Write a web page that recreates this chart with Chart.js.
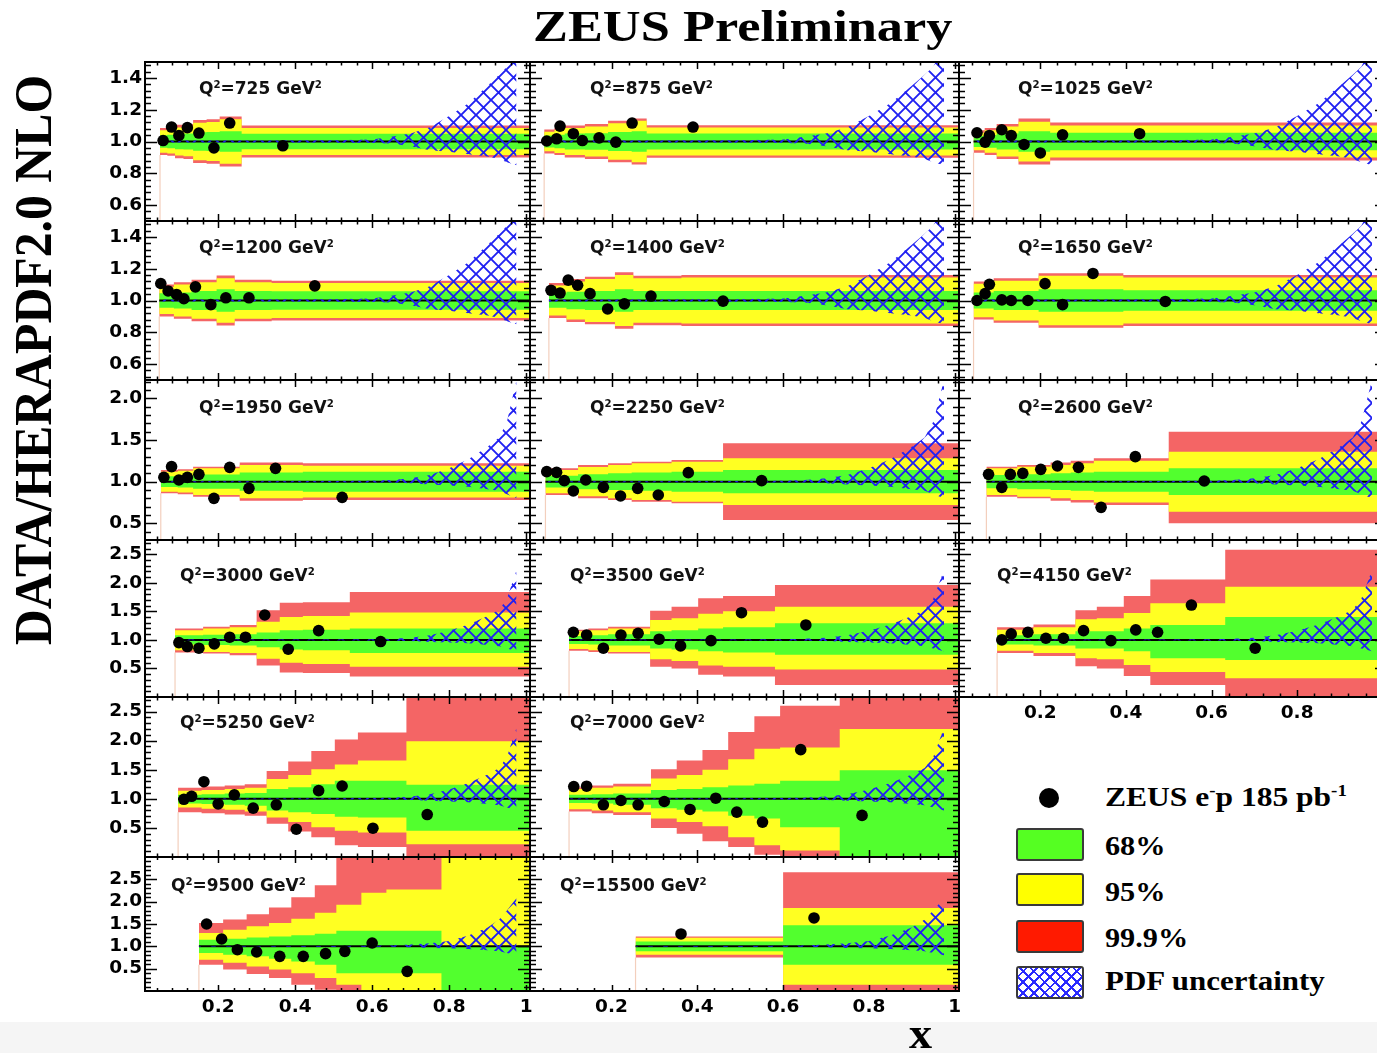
<!DOCTYPE html>
<html>
<head>
<meta charset="utf-8">
<title>ZEUS Preliminary</title>
<script src="https://cdn.jsdelivr.net/npm/chart.js@4.4.1/dist/chart.umd.min.js"></script>
<style>
  html, body { margin:0; padding:0; background:#fff; }
  body { position:relative; width:1377px; height:1053px; overflow:hidden; }
  canvas { position:absolute; }
  .txt { position:absolute; white-space:nowrap; color:#000; transform-origin:0 0; }
  .serif { font-family:"Liberation Serif","Times New Roman",serif; font-weight:bold; }
  .sans { font-family:"DejaVu Sans",sans-serif; font-weight:bold; color:#111; }
  .sup { position:relative; font-size:0.6em; top:-0.62em; line-height:0; }
  .box { position:absolute; box-sizing:border-box; border:2px solid #3a3a3a; border-radius:3px; }
  #strip { position:absolute; left:0; top:1022px; width:1377px; height:31px; background:#f5f5f5; }
</style>
</head>
<body>
<div id="strip"></div>
<script>
// ================= DATA =================
// tick labels
const xTickLabels   = [0.2, 0.4, 0.6, 0.8, 1.0];
const yTicksRow12   = [0.6, 0.8, 1.0, 1.2, 1.4];
const yTicksRow3    = [0.5, 1.0, 1.5, 2.0];
const yTicksRow456  = [0.5, 1.0, 1.5, 2.0, 2.5];

// PDF uncertainty (hatched) band, ratio upper / lower edges at pdfX
const pdfX   = [0.03, 0.30, 0.50, 0.60, 0.65, 0.70, 0.75, 0.80, 0.85, 0.90, 0.93, 0.95, 0.975];
const pdfUpA = [1.006,1.006,1.008,1.012,1.030,1.050,1.090,1.160,1.240,1.350,1.420,1.470,1.600];
const pdfLoA = [0.994,0.994,0.992,0.990,0.988,0.970,0.945,0.935,0.920,0.905,0.890,0.870,0.850];
const pdfUpB = [1.006,1.006,1.008,1.012,1.020,1.040,1.080,1.160,1.270,1.420,1.530,1.720,2.220];
const pdfLoB = [0.994,0.994,0.992,0.990,0.990,0.980,0.965,0.955,0.940,0.910,0.890,0.850,0.800];
const pdfUpC = [1.006,1.006,1.008,1.012,1.020,1.040,1.070,1.120,1.240,1.420,1.600,1.800,2.080];
const pdfLoC = [0.994,0.994,0.992,0.990,0.990,0.980,0.965,0.955,0.940,0.910,0.890,0.850,0.800];

// Q2 = 725
const q725_x    = [0.057, 0.079, 0.098, 0.120, 0.150, 0.189, 0.230, 0.368];
const q725_v    = [1.006, 1.091, 1.038, 1.087, 1.053, 0.960, 1.116, 0.973];
const q725_edges= [0.049, 0.068, 0.088, 0.110, 0.135, 0.170, 0.204, 0.261, 1.01];
const q725_b68  = [0.040, 0.042, 0.048, 0.050, 0.058, 0.060, 0.065, 0.048];
const q725_b95  = [0.070, 0.075, 0.088, 0.092, 0.118, 0.122, 0.140, 0.085];
const q725_b999 = [0.085, 0.090, 0.105, 0.110, 0.135, 0.140, 0.158, 0.100];
// Q2 = 875
const q875_x    = [0.049, 0.072, 0.080, 0.111, 0.132, 0.171, 0.210, 0.248, 0.390];
const q875_v    = [1.003, 1.017, 1.097, 1.049, 1.006, 1.023, 0.996, 1.116, 1.091];
const q875_edges= [0.043, 0.067, 0.091, 0.138, 0.192, 0.247, 0.282, 1.01];
const q875_b68  = [0.038, 0.042, 0.050, 0.052, 0.060, 0.065, 0.050];
const q875_b95  = [0.062, 0.072, 0.085, 0.095, 0.115, 0.130, 0.088];
const q875_b999 = [0.075, 0.085, 0.100, 0.110, 0.130, 0.145, 0.102];
// Q2 = 1025
const q1025_x    = [0.052, 0.071, 0.081, 0.110, 0.132, 0.162, 0.200, 0.252, 0.432];
const q1025_v    = [1.055, 0.996, 1.038, 1.074, 1.038, 0.981, 0.928, 1.042, 1.049];
const q1025_edges= [0.044, 0.070, 0.098, 0.149, 0.223, 1.01];
const q1025_b68  = [0.035, 0.040, 0.050, 0.065, 0.055];
const q1025_b95  = [0.055, 0.070, 0.095, 0.125, 0.100];
const q1025_b999 = [0.070, 0.085, 0.110, 0.145, 0.120];
// Q2 = 1200
const q1200_x    = [0.051, 0.070, 0.092, 0.111, 0.141, 0.181, 0.220, 0.280, 0.451];
const q1200_v    = [1.107, 1.060, 1.038, 1.011, 1.086, 0.974, 1.017, 1.017, 1.092];
const q1200_edges= [0.047, 0.085, 0.131, 0.196, 0.243, 0.339, 1.01];
const q1200_b68  = [0.045, 0.050, 0.060, 0.070, 0.060, 0.058];
const q1200_b95  = [0.085, 0.100, 0.115, 0.140, 0.115, 0.110];
const q1200_b999 = [0.100, 0.115, 0.130, 0.158, 0.130, 0.125];
// Q2 = 1400
const q1400_x    = [0.059, 0.080, 0.099, 0.121, 0.150, 0.191, 0.230, 0.292, 0.460];
const q1400_v    = [1.064, 1.047, 1.128, 1.096, 1.043, 0.947, 0.979, 1.028, 0.996];
const q1400_edges= [0.054, 0.095, 0.138, 0.208, 0.251, 0.363, 1.01];
const q1400_b68  = [0.045, 0.055, 0.060, 0.070, 0.060, 0.060];
const q1400_b95  = [0.095, 0.120, 0.135, 0.160, 0.140, 0.145];
const q1400_b999 = [0.110, 0.135, 0.150, 0.178, 0.155, 0.160];
// Q2 = 1650
const q1650_x    = [0.052, 0.071, 0.081, 0.110, 0.132, 0.171, 0.211, 0.252, 0.323, 0.492];
const q1650_v    = [1.000, 1.043, 1.102, 1.004, 1.000, 1.000, 1.106, 0.974, 1.170, 0.994];
const q1650_edges= [0.044, 0.091, 0.196, 0.394, 1.01];
const q1650_b68  = [0.050, 0.060, 0.070, 0.065];
const q1650_b95  = [0.105, 0.125, 0.155, 0.145];
const q1650_b999 = [0.120, 0.140, 0.172, 0.160];
// Q2 = 1950
const q1950_x    = [0.059, 0.079, 0.098, 0.120, 0.150, 0.189, 0.230, 0.280, 0.349, 0.522];
const q1950_v    = [1.052, 1.180, 1.020, 1.052, 1.088, 0.800, 1.172, 0.920, 1.160, 0.812];
const q1950_edges= [0.051, 0.095, 0.135, 0.256, 0.420, 1.01];
const q1950_b68  = [0.065, 0.070, 0.085, 0.110, 0.120];
const q1950_b95  = [0.120, 0.130, 0.160, 0.200, 0.190];
const q1950_b999 = [0.140, 0.150, 0.180, 0.230, 0.220];
// Q2 = 2250
const q2250_x    = [0.049, 0.072, 0.090, 0.111, 0.140, 0.181, 0.221, 0.261, 0.309, 0.379, 0.550];
const q2250_v    = [1.120, 1.112, 1.012, 0.888, 1.020, 0.932, 0.828, 0.920, 0.840, 1.108, 1.012];
const q2250_edges= [0.046, 0.122, 0.192, 0.247, 0.340, 0.460, 1.01];
const q2250_b68  = [0.070, 0.090, 0.100, 0.110, 0.120, 0.140];
const q2250_b95  = [0.140, 0.175, 0.200, 0.220, 0.240, 0.280];
const q2250_b999 = [0.160, 0.200, 0.220, 0.240, 0.260, 0.460];
// Q2 = 2600
const q2600_x     = [0.079, 0.110, 0.130, 0.159, 0.201, 0.240, 0.289, 0.342, 0.422, 0.583];
const q2600_v     = [1.088, 0.932, 1.088, 1.100, 1.148, 1.188, 1.172, 0.692, 1.300, 1.008];
const q2600_edges = [0.074, 0.146, 0.224, 0.271, 0.325, 0.500, 1.01];
const q2600_b68   = [0.080, 0.090, 0.100, 0.110, 0.120, 0.160];
const q2600_b95   = [0.160, 0.180, 0.200, 0.220, 0.250, 0.360];
const q2600_b999u = [0.180, 0.200, 0.230, 0.250, 0.280, 0.600];
const q2600_b999d = [0.180, 0.200, 0.230, 0.250, 0.280, 0.500];
// Q2 = 3000
const q3000_x     = [0.098, 0.120, 0.150, 0.190, 0.230, 0.271, 0.321, 0.382, 0.461, 0.622];
const q3000_v     = [0.953, 0.884, 0.855, 0.930, 1.047, 1.047, 1.436, 0.837, 1.163, 0.971];
const q3000_edges = [0.088, 0.161, 0.230, 0.300, 0.360, 0.420, 0.542, 1.01];
const q3000_b68u  = [0.08, 0.09, 0.10, 0.13, 0.17, 0.18, 0.20];
const q3000_b68d  = [0.08, 0.09, 0.10, 0.13, 0.17, 0.18, 0.23];
const q3000_b95u  = [0.17, 0.20, 0.22, 0.32, 0.40, 0.42, 0.48];
const q3000_b95d  = [0.18, 0.21, 0.23, 0.33, 0.40, 0.42, 0.47];
const q3000_b999u = [0.20, 0.23, 0.26, 0.52, 0.65, 0.66, 0.84];
const q3000_b999d = [0.22, 0.24, 0.27, 0.45, 0.57, 0.58, 0.64];
// Q2 = 3500
const q3500_x     = [0.111, 0.142, 0.181, 0.222, 0.262, 0.311, 0.361, 0.432, 0.503, 0.653];
const q3500_v     = [1.134, 1.087, 0.855, 1.087, 1.116, 1.012, 0.895, 0.988, 1.477, 1.262];
const q3500_edges = [0.101, 0.146, 0.192, 0.290, 0.340, 0.402, 0.460, 0.581, 1.01];
const q3500_b68u  = [0.07, 0.08, 0.10, 0.15, 0.17, 0.20, 0.22, 0.29];
const q3500_b68d  = [0.07, 0.08, 0.10, 0.15, 0.17, 0.20, 0.22, 0.26];
const q3500_b95u  = [0.15, 0.17, 0.20, 0.35, 0.38, 0.46, 0.50, 0.58];
const q3500_b95d  = [0.16, 0.18, 0.21, 0.34, 0.37, 0.45, 0.47, 0.52];
const q3500_b999u = [0.18, 0.20, 0.23, 0.51, 0.58, 0.73, 0.77, 0.96];
const q3500_b999d = [0.19, 0.21, 0.24, 0.47, 0.50, 0.61, 0.64, 0.79];
// Q2 = 4150
const q4150_x     = [0.110, 0.132, 0.171, 0.213, 0.254, 0.301, 0.365, 0.423, 0.474, 0.553, 0.702];
const q4150_v     = [1.000, 1.105, 1.134, 1.029, 1.029, 1.163, 0.988, 1.175, 1.134, 1.611, 0.855];
const q4150_edges = [0.099, 0.184, 0.282, 0.332, 0.395, 0.457, 0.632, 1.01];
const q4150_b68u  = [0.08, 0.10, 0.15, 0.15, 0.20, 0.26, 0.40];
const q4150_b68d  = [0.08, 0.10, 0.15, 0.15, 0.20, 0.32, 0.35];
const q4150_b95u  = [0.18, 0.22, 0.36, 0.38, 0.47, 0.64, 0.93];
const q4150_b95d  = [0.19, 0.23, 0.32, 0.34, 0.44, 0.56, 0.67];
const q4150_b999u = [0.22, 0.27, 0.52, 0.58, 0.77, 1.06, 1.58];
const q4150_b999d = [0.23, 0.28, 0.46, 0.50, 0.63, 0.79, 1.05];
// Q2 = 5250
const q5250_x     = [0.111, 0.131, 0.163, 0.200, 0.242, 0.291, 0.351, 0.403, 0.461, 0.522, 0.602, 0.743];
const q5250_v     = [0.992, 1.043, 1.294, 0.912, 1.068, 0.840, 0.897, 0.478, 1.140, 1.220, 0.495, 0.730];
const q5250_edges = [0.096, 0.157, 0.217, 0.269, 0.326, 0.382, 0.442, 0.503, 0.563, 0.689, 1.01];
const q5250_b68u  = [0.07, 0.08, 0.09, 0.10, 0.17, 0.20, 0.25, 0.31, 0.31, 0.24];
const q5250_b68d  = [0.08, 0.09, 0.10, 0.12, 0.20, 0.23, 0.26, 0.31, 0.32, 0.55];
const q5250_b95u  = [0.14, 0.15, 0.17, 0.19, 0.34, 0.41, 0.51, 0.59, 0.66, 0.99];
const q5250_b95d  = [0.15, 0.17, 0.19, 0.22, 0.32, 0.40, 0.49, 0.55, 0.58, 0.78];
const q5250_b999u = [0.19, 0.21, 0.23, 0.25, 0.48, 0.64, 0.82, 1.02, 1.14, 1.80];
const q5250_b999d = [0.23, 0.25, 0.27, 0.29, 0.43, 0.56, 0.66, 0.80, 0.83, 1.05];
// Q2 = 7000
const q7000_x     = [0.112, 0.142, 0.181, 0.222, 0.262, 0.323, 0.383, 0.443, 0.492, 0.552, 0.641, 0.784];
const q7000_v     = [1.211, 1.217, 0.897, 0.971, 0.897, 0.954, 0.817, 1.011, 0.772, 0.600, 1.845, 0.715];
const q7000_edges = [0.101, 0.154, 0.204, 0.292, 0.352, 0.412, 0.472, 0.533, 0.593, 0.732, 1.01];
const q7000_b68u  = [0.07, 0.08, 0.09, 0.15, 0.17, 0.20, 0.23, 0.26, 0.31, 0.49];
const q7000_b68d  = [0.07, 0.08, 0.10, 0.16, 0.19, 0.22, 0.29, 0.34, 0.49, 1.05];
const q7000_b95u  = [0.17, 0.19, 0.21, 0.35, 0.41, 0.50, 0.68, 0.86, 0.88, 1.20];
const q7000_b95d  = [0.18, 0.20, 0.23, 0.34, 0.40, 0.47, 0.66, 0.80, 0.89, 1.05];
const q7000_b999u = [0.20, 0.23, 0.26, 0.51, 0.66, 0.84, 1.15, 1.42, 1.60, 1.80];
const q7000_b999d = [0.22, 0.25, 0.28, 0.50, 0.60, 0.73, 0.83, 0.96, 1.05, 1.05];
// Q2 = 9500
const q9500_x     = [0.170, 0.209, 0.250, 0.300, 0.360, 0.421, 0.479, 0.529, 0.600, 0.691];
const q9500_v     = [1.500, 1.164, 0.925, 0.873, 0.776, 0.776, 0.836, 0.888, 1.075, 0.440];
const q9500_edges = [0.150, 0.213, 0.274, 0.332, 0.390, 0.451, 0.507, 0.572, 0.637, 0.780, 1.01];
const q9500_b68u  = [0.15, 0.17, 0.20, 0.22, 0.25, 0.28, 0.35, 0.35, 0.35, 0.00];
const q9500_b68d  = [0.15, 0.19, 0.22, 0.28, 0.34, 0.41, 0.60, 0.60, 0.60, 1.05];
const q9500_b95u  = [0.30, 0.37, 0.45, 0.52, 0.62, 0.75, 0.93, 1.20, 1.27, 2.10];
const q9500_b95d  = [0.30, 0.37, 0.45, 0.52, 0.60, 0.71, 0.86, 1.05, 1.05, 1.05];
const q9500_b999u = [0.52, 0.60, 0.72, 0.87, 1.10, 1.37, 2.10, 2.10, 2.10, 2.10];
const q9500_b999d = [0.41, 0.52, 0.62, 0.71, 0.86, 0.97, 1.05, 1.05, 1.05, 1.05];
// Q2 = 15500
const q15500_x     = [0.362, 0.672];
const q15500_v     = [1.277, 1.635];
const q15500_edges = [0.256, 0.600, 1.01];
const q15500_b68u  = [0.11, 0.47];
const q15500_b68d  = [0.11, 0.41];
const q15500_b95u  = [0.19, 0.86];
const q15500_b95d  = [0.19, 0.86];
const q15500_b999u = [0.22, 1.66];
const q15500_b999d = [0.25, 1.05];

// ================= PANEL TABLE (built from the arrays) =================
const panels = [
 {q:'725',  col:0,row:0, x:q725_x,  v:q725_v,  edges:q725_edges,  gU:q725_b68,  gL:q725_b68,  yU:q725_b95,  yL:q725_b95,  rU:q725_b999,  rL:q725_b999,  pU:pdfUpA, pL:pdfLoA},
 {q:'875',  col:1,row:0, x:q875_x,  v:q875_v,  edges:q875_edges,  gU:q875_b68,  gL:q875_b68,  yU:q875_b95,  yL:q875_b95,  rU:q875_b999,  rL:q875_b999,  pU:pdfUpA, pL:pdfLoA},
 {q:'1025', col:2,row:0, x:q1025_x, v:q1025_v, edges:q1025_edges, gU:q1025_b68, gL:q1025_b68, yU:q1025_b95, yL:q1025_b95, rU:q1025_b999, rL:q1025_b999, pU:pdfUpA, pL:pdfLoA},
 {q:'1200', col:0,row:1, x:q1200_x, v:q1200_v, edges:q1200_edges, gU:q1200_b68, gL:q1200_b68, yU:q1200_b95, yL:q1200_b95, rU:q1200_b999, rL:q1200_b999, pU:pdfUpA, pL:pdfLoA},
 {q:'1400', col:1,row:1, x:q1400_x, v:q1400_v, edges:q1400_edges, gU:q1400_b68, gL:q1400_b68, yU:q1400_b95, yL:q1400_b95, rU:q1400_b999, rL:q1400_b999, pU:pdfUpA, pL:pdfLoA},
 {q:'1650', col:2,row:1, x:q1650_x, v:q1650_v, edges:q1650_edges, gU:q1650_b68, gL:q1650_b68, yU:q1650_b95, yL:q1650_b95, rU:q1650_b999, rL:q1650_b999, pU:pdfUpA, pL:pdfLoA},
 {q:'1950', col:0,row:2, x:q1950_x, v:q1950_v, edges:q1950_edges, gU:q1950_b68, gL:q1950_b68, yU:q1950_b95, yL:q1950_b95, rU:q1950_b999, rL:q1950_b999, pU:pdfUpB, pL:pdfLoB},
 {q:'2250', col:1,row:2, x:q2250_x, v:q2250_v, edges:q2250_edges, gU:q2250_b68, gL:q2250_b68, yU:q2250_b95, yL:q2250_b95, rU:q2250_b999, rL:q2250_b999, pU:pdfUpB, pL:pdfLoB},
 {q:'2600', col:2,row:2, x:q2600_x, v:q2600_v, edges:q2600_edges, gU:q2600_b68, gL:q2600_b68, yU:q2600_b95, yL:q2600_b95, rU:q2600_b999u, rL:q2600_b999d, pU:pdfUpB, pL:pdfLoB},
 {q:'3000', col:0,row:3, x:q3000_x, v:q3000_v, edges:q3000_edges, gU:q3000_b68u, gL:q3000_b68d, yU:q3000_b95u, yL:q3000_b95d, rU:q3000_b999u, rL:q3000_b999d, pU:pdfUpB, pL:pdfLoB},
 {q:'3500', col:1,row:3, x:q3500_x, v:q3500_v, edges:q3500_edges, gU:q3500_b68u, gL:q3500_b68d, yU:q3500_b95u, yL:q3500_b95d, rU:q3500_b999u, rL:q3500_b999d, pU:pdfUpB, pL:pdfLoB},
 {q:'4150', col:2,row:3, x:q4150_x, v:q4150_v, edges:q4150_edges, gU:q4150_b68u, gL:q4150_b68d, yU:q4150_b95u, yL:q4150_b95d, rU:q4150_b999u, rL:q4150_b999d, pU:pdfUpB, pL:pdfLoB, xlab:true},
 {q:'5250', col:0,row:4, x:q5250_x, v:q5250_v, edges:q5250_edges, gU:q5250_b68u, gL:q5250_b68d, yU:q5250_b95u, yL:q5250_b95d, rU:q5250_b999u, rL:q5250_b999d, pU:pdfUpB, pL:pdfLoB},
 {q:'7000', col:1,row:4, x:q7000_x, v:q7000_v, edges:q7000_edges, gU:q7000_b68u, gL:q7000_b68d, yU:q7000_b95u, yL:q7000_b95d, rU:q7000_b999u, rL:q7000_b999d, pU:pdfUpB, pL:pdfLoB},
 {q:'9500', col:0,row:5, x:q9500_x, v:q9500_v, edges:q9500_edges, gU:q9500_b68u, gL:q9500_b68d, yU:q9500_b95u, yL:q9500_b95d, rU:q9500_b999u, rL:q9500_b999d, pU:pdfUpC, pL:pdfLoC, xlab:true},
 {q:'15500',col:1,row:5, x:q15500_x,v:q15500_v,edges:q15500_edges,gU:q15500_b68u,gL:q15500_b68d,yU:q15500_b95u,yL:q15500_b95d,rU:q15500_b999u,rL:q15500_b999d,pU:pdfUpC, pL:pdfLoC, xlab:true}
];

// ================= LAYOUT / STYLE =================
const colL = [145, 530, 959], colW = [385, 429, 428];
const rowT = [62, 221, 380, 540, 697, 857], rowH = [159, 159, 160, 157, 160, 134];
const rowYMin = [0.5, 0.5, 0.3, 0, 0, 0], rowYMax = [1.5, 1.5, 2.22, 2.75, 2.75, 3.0];
const rowYTicks = [yTicksRow12, yTicksRow12, yTicksRow3, yTicksRow456, yTicksRow456, yTicksRow456];
const rowYMinorStep = [0.04, 0.04, 0.1, 0.1, 0.1, 0.1];
const labelLeft = {'725':199,'875':590,'1025':1018,'1200':199,'1400':590,'1650':1018,'1950':199,'2250':590,'2600':1018,
                   '3000':180,'3500':570,'4150':997,'5250':180,'7000':570,'9500':171,'15500':560};
const labelBase = [94.3, 253.3, 413.3, 581.5, 728.5, 891.7];

const RED = '#f46565', YEL = '#ffff22', GRN = '#52ff2e', HATCH = '#2020f2';

Chart.defaults.font.family = '"DejaVu Sans", sans-serif';

function makeHatch() {
  const s = 15, c = document.createElement('canvas');
  c.width = s; c.height = s;
  const g = c.getContext('2d');
  g.strokeStyle = HATCH; g.lineWidth = 1.9;
  g.beginPath();
  for (const off of [-s, 0, s]) {
    g.moveTo(-s, -s + off); g.lineTo(2 * s, 2 * s + off);
    g.moveTo(-s, 2 * s + off); g.lineTo(2 * s, -s + off);
  }
  g.stroke();
  return g.createPattern(c, 'repeat');
}
const hatch = makeHatch();

function multiples(lo, hi, step) {
  const out = [];
  const n0 = Math.ceil(lo / step - 1e-9), n1 = Math.floor(hi / step + 1e-9);
  for (let n = n0; n <= n1; n++) out.push(+(n * step).toFixed(6));
  return out;
}
function notIn(list, majors) { return list.filter(v => !majors.some(m => Math.abs(m - v) < 1e-6)); }

function steps(edges, w, sign) {
  const pts = [];
  for (let i = 0; i < w.length; i++) {
    pts.push({x: edges[i], y: 1 + sign * w[i]});
    pts.push({x: edges[i + 1], y: 1 + sign * w[i]});
  }
  return pts;
}

const framePlugin = {
  id: 'frame',
  afterDraw(chart, args, o) {
    const {ctx, chartArea: a, scales: {x, y}} = chart;
    ctx.save();
    ctx.strokeStyle = '#000';
    ctx.lineWidth = 1.5;
    ctx.beginPath();
    const vt = (vals, len) => vals.forEach(v => {
      const py = Math.round(y.getPixelForValue(v)) + 0.5;
      ctx.moveTo(a.left, py); ctx.lineTo(a.left + len, py);
      ctx.moveTo(a.right, py); ctx.lineTo(a.right - len, py);
    });
    const ht = (vals, len) => vals.forEach(v => {
      const px = Math.round(x.getPixelForValue(v)) + 0.5;
      ctx.moveTo(px, a.top); ctx.lineTo(px, a.top + len);
      ctx.moveTo(px, a.bottom); ctx.lineTo(px, a.bottom - len);
    });
    vt(o.yMajor, 12); vt(o.yMinor, 6);
    ht(o.xMajor, o.xLen); ht(o.xMinor, o.xLen * 0.5);
    ctx.stroke();
    ctx.lineWidth = 2;
    ctx.strokeRect(a.left, a.top, a.width, a.height);
    ctx.restore();
  }
};

function makePanel(p) {
  const L = colL[p.col], W = colW[p.col], T = rowT[p.row], H = rowH[p.row];
  const leftW = p.col === 0 ? 52 : 0;
  const bottomH = p.xlab ? 34 : 0;
  const pad = 7;
  const cw = W + leftW + 2 * pad, ch = H + bottomH + 2 * pad;
  const cv = document.createElement('canvas');
  cv.width = cw; cv.height = ch;
  cv.style.width = cw + 'px'; cv.style.height = ch + 'px';
  cv.style.left = (L - leftW - pad) + 'px';
  cv.style.top = (T - pad) + 'px';
  document.body.appendChild(cv);

  const ymin = rowYMin[p.row], ymax = rowYMax[p.row];
  const e0 = p.edges[0];
  const pdfUp = [{x: e0, y: p.pU[0]}], pdfLo = [{x: e0, y: p.pL[0]}];
  pdfX.forEach((xv, i) => { if (xv > e0) { pdfUp.push({x: xv, y: p.pU[i]}); pdfLo.push({x: xv, y: p.pL[i]}); } });

  const base = {borderWidth: 0, pointRadius: 0, borderColor: 'rgba(0,0,0,0)', tension: 0, fill: false};
  const datasets = [
    {...base, data: steps(p.edges, p.rU, 1),  fill: {target: 1}, backgroundColor: RED, order: 10},
    {...base, data: steps(p.edges, p.rL, -1), order: 10},
    {...base, data: steps(p.edges, p.yU, 1),  fill: {target: 3}, backgroundColor: YEL, order: 9},
    {...base, data: steps(p.edges, p.yL, -1), order: 9},
    {...base, data: steps(p.edges, p.gU, 1),  fill: {target: 5}, backgroundColor: GRN, order: 8},
    {...base, data: steps(p.edges, p.gL, -1), order: 8},
    {...base, data: [{x: e0, y: ymin}, {x: e0, y: 1 - p.rL[0]}], borderWidth: 1.2, borderColor: '#f3cfbd', order: 11},
    {...base, data: [{x: e0, y: 1}, {x: 1.01, y: 1}], borderWidth: 2, borderColor: '#000', order: 6},
    {...base, data: pdfUp, fill: {target: 9}, backgroundColor: hatch, order: 5},
    {...base, data: pdfLo, order: 5},
    {type: 'line', data: p.x.map((xv, i) => ({x: xv, y: p.v[i]})), showLine: false,
     pointRadius: 5.8, pointBackgroundColor: '#000', pointBorderWidth: 0, borderColor: '#000', borderWidth: 0, order: 1}
  ];

  const yMajor = rowYTicks[p.row];
  const yMinor = notIn(multiples(ymin + 1e-6, ymax - 1e-6, rowYMinorStep[p.row]), yMajor);
  const xMinor = notIn(multiples(0.011, 1.009, 0.04), xTickLabels);

  new Chart(cv, {
    type: 'line',
    data: {datasets},
    options: {
      responsive: false, animation: false, devicePixelRatio: 1, events: [],
      layout: {padding: {left: pad, right: pad, top: pad, bottom: pad}},
      plugins: {
        legend: {display: false}, tooltip: {enabled: false},
        frame: {yMajor, yMinor, xMajor: xTickLabels, xMinor, xLen: p.row === 5 ? 6 : 7}
      },
      scales: {
        x: {
          type: 'linear', position: 'bottom', min: 0.01, max: 1.01,
          grid: {display: false, drawTicks: false}, border: {display: false},
          ticks: {display: !!p.xlab, autoSkip: false, maxRotation: 0, padding: 5, color: '#000',
                  font: {family: '"DejaVu Sans", sans-serif', weight: 'bold', size: 18.5},
                  callback: v => (Math.abs(v - 1) < 1e-9 ? '1' : v.toFixed(1))},
          afterBuildTicks: ax => { ax.ticks = xTickLabels.map(v => ({value: v})); },
          afterFit: ax => { ax.height = bottomH; ax.paddingLeft = 0; ax.paddingRight = 0; ax.paddingTop = 0; ax.paddingBottom = 0; }
        },
        y: {
          type: 'linear', position: 'left', min: ymin, max: ymax,
          grid: {display: false, drawTicks: false}, border: {display: false},
          ticks: {display: p.col === 0, autoSkip: false, padding: 3, color: '#000',
                  font: {family: '"DejaVu Sans", sans-serif', weight: 'bold', size: 18.5},
                  callback: v => v.toFixed(1)},
          afterBuildTicks: ax => { ax.ticks = yMajor.map(v => ({value: v})); },
          afterFit: ax => { ax.width = leftW; ax.paddingTop = 0; ax.paddingBottom = 0; ax.paddingLeft = 0; ax.paddingRight = 0; }
        }
      }
    },
    plugins: [framePlugin]
  });

  addText('Q<span class="sup">2</span>=' + p.q + ' GeV<span class="sup">2</span>', 'sans', 17,
          labelLeft[p.q], labelBase[p.row]);
}

// ================= TEXT HELPERS =================
function addText(html, cls, size, left, baseline, opt) {
  opt = opt || {};
  const d = document.createElement('div');
  d.className = 'txt ' + cls;
  d.style.fontSize = size + 'px';
  d.style.lineHeight = size + 'px';
  d.innerHTML = html;
  document.body.appendChild(d);
  const asc = cls === 'serif' ? 0.8375 : 0.846;
  d.style.top = (baseline - asc * size) + 'px';
  let sx = opt.scaleX || 1;
  if (opt.width) sx = opt.width / d.offsetWidth;
  let l = left;
  if (opt.center) l = left - d.offsetWidth * sx / 2;
  d.style.left = l + 'px';
  d.style.transform = 'scaleX(' + sx + ')';
  return d;
}

panels.forEach(makePanel);

// title
addText('ZEUS Preliminary', 'serif', 45, 742.5, 42, {width: 419, center: true});

// y axis title (rotated)
(function () {
  const d = document.createElement('div');
  d.className = 'txt serif';
  d.style.fontSize = '46px'; d.style.lineHeight = '46px';
  d.textContent = 'DATA/HERAPDF2.0 NLO';
  document.body.appendChild(d);
  const w = d.offsetWidth, k = 570 / w;
  d.style.left = (33 - w / 2) + 'px';
  d.style.top = (360 - 23) + 'px';
  d.style.transformOrigin = '50% 50%';
  d.style.transform = 'rotate(-90deg) scale(' + k + ',1.15)';
})();

// x axis title
addText('x', 'serif', 44, 921, 1049, {center: true, scaleX: 1.05});

// legend
(function () {
  const dot = document.createElement('div');
  dot.style.cssText = 'position:absolute;left:1039px;top:788px;width:20px;height:20px;border-radius:50%;background:#000;';
  document.body.appendChild(dot);
  const boxes = [
    {top: 828, bg: '#55ff22'},
    {top: 873, bg: '#ffff00'},
    {top: 920, bg: '#ff1a00'},
    {top: 966, bg: 'repeating-linear-gradient(45deg, rgba(0,0,0,0) 0px, rgba(0,0,0,0) 5.6px, #2a2aff 5.6px, #2a2aff 7.6px), repeating-linear-gradient(-45deg, rgba(0,0,0,0) 0px, rgba(0,0,0,0) 5.6px, #2a2aff 5.6px, #2a2aff 7.6px), #ffffff'}
  ];
  boxes.forEach(b => {
    const e = document.createElement('div');
    e.className = 'box';
    e.style.left = '1016px'; e.style.top = b.top + 'px';
    e.style.width = '68px'; e.style.height = '33px';
    e.style.background = b.bg;
    document.body.appendChild(e);
  });
  addText('ZEUS e<span class="sup">-</span>p 185 pb<span class="sup">-1</span>', 'serif', 28, 1105, 806.7, {width: 242});
  addText('68%', 'serif', 28, 1105, 855, {scaleX: 1.08});
  addText('95%', 'serif', 28, 1105, 901.7, {scaleX: 1.08});
  addText('99.9%', 'serif', 28, 1105, 947, {scaleX: 1.08});
  addText('PDF uncertainty', 'serif', 28, 1105, 990, {width: 220});
})();
</script>
</body>
</html>
